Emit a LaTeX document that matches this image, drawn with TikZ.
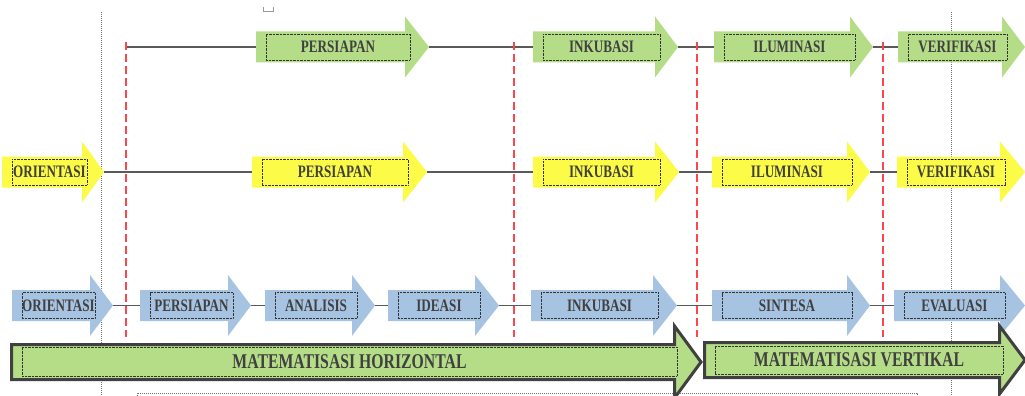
\documentclass[tikz,border=0pt]{standalone}
\usepackage{fontspec}
\newfontfamily\stagefont[FakeStretch=0.75]{Liberation Serif}
\usetikzlibrary{calc}
\definecolor{stagegreen}{RGB}{181,221,135}
\definecolor{stageyellow}{RGB}{252,252,72}
\definecolor{stageblue}{RGB}{166,196,226}
\definecolor{phasered}{RGB}{250,70,80}
\definecolor{labelgray}{RGB}{64,64,64}
\tikzset{
  stageframe/.style={draw=black!80, dash pattern=on 0.7pt off 0.7pt, line width=0.6pt,
    inner sep=0pt, minimum height=26, text=labelgray,
    font=\stagefont\bfseries\fontsize{17.5}{18}\selectfont},
  bigframe/.style={stageframe, font=\stagefont\bfseries\fontsize{21}{22}\selectfont},
  link/.style={draw=black!65, line width=1.1pt},
  phase/.style={draw=phasered, line width=1.8pt, dash pattern=on 8pt off 4pt},
  pagemargin/.style={draw=black!55, line width=0.5pt, dash pattern=on 1pt off 1pt},
  bigarrow/.style={fill=stagegreen, draw=black!75, line width=3pt, line join=miter},
}
% #1 name, #2 colour, #3 start, #4 head base, #5 tip, #6 y, #7 text
\newcommand{\stage}[7]{%
  \fill[#2] (#3,#6-15.5) -- (#4,#6-15.5) -- (#4,#6-30.5) -- (#5,#6)
    -- (#4,#6+30.5) -- (#4,#6+15.5) -- (#3,#6+15.5) -- cycle;
  \coordinate (#1-in) at (#3,#6);
  \coordinate (#1-out) at (#5,#6);
  \node[stageframe, minimum width={#4-#3-5}] (#1) at ({(#3+#4+15)/2},#6) {#7};
}

\begin{document}
\begin{tikzpicture}[x=1pt, y=-1pt]
   \useasboundingbox (0,0) rectangle (1025,396);
   % page margins
   \draw[pagemargin] (101,12) -- (101,396);
   \draw[pagemargin] (951,12) -- (951,396);
   \draw[pagemargin] (137,396) -- (137,393) -- (917,393) -- (917,396);
   \draw[black!40, line width=0.6pt] (263,7) -- (263,11) -- (273,11) -- (273,7);

   % green row
   \stage{gp}{stagegreen}{256}{405}{429}{47}{PERSIAPAN}
   \stage{gi}{stagegreen}{533}{655}{678}{47}{INKUBASI}
   \stage{gl}{stagegreen}{714}{850}{873}{47}{ILUMINASI}
   \stage{gv}{stagegreen}{898}{1002}{1025}{47}{VERIFIKASI}
   \coordinate (gstart) at (126,47);
   \draw[link] (gstart) -- (gp-in);
   \draw[link] (gp-out) -- (gi-in);
   \draw[link] (gi-out) -- (gl-in);
   \draw[link] (gl-out) -- (gv-in);

   % yellow row
   \stage{yo}{stageyellow}{2}{82}{104}{172}{ORIENTASI}
   \stage{yp}{stageyellow}{252}{403}{427}{172}{PERSIAPAN}
   \stage{yi}{stageyellow}{533}{655}{679}{172}{INKUBASI}
   \stage{yl}{stageyellow}{712}{847}{870}{172}{ILUMINASI}
   \stage{yv}{stageyellow}{897}{1000}{1025}{172}{VERIFIKASI}
   \draw[link] (yo-out) -- (yp-in);
   \draw[link] (yp-out) -- (yi-in);
   \draw[link] (yi-out) -- (yl-in);
   \draw[link] (yl-out) -- (yv-in);

   % blue row
   \stage{bo}{stageblue}{12}{90}{113}{305.5}{ORIENTASI}
   \stage{bp}{stageblue}{140}{228}{251}{305.5}{PERSIAPAN}
   \stage{ba}{stageblue}{265}{352}{375}{305.5}{ANALISIS}
   \stage{bd}{stageblue}{388}{475}{499}{305.5}{IDEASI}
   \stage{bi}{stageblue}{531}{653}{677}{305.5}{INKUBASI}
   \stage{bs}{stageblue}{712}{847}{870}{305.5}{SINTESA}
   \stage{be}{stageblue}{894}{1000}{1025}{305.5}{EVALUASI}
   \draw[link] (bo-out) -- (bp-in);
   \draw[link] (bp-out) -- (ba-in);
   \draw[link] (ba-out) -- (bd-in);
   \draw[link] (bd-out) -- (bi-in);
   \draw[link] (bi-out) -- (bs-in);
   \draw[link] (bs-out) -- (be-in);

   % phase borders
   \foreach \x in {126,514,697,883}
      \draw[phase] (\x,42) -- (\x,337);

   % big arrows
   \draw[bigarrow] (704.5,342.5) -- (999.5,342.5) -- (999.5,326) -- (1025,360)
      -- (999.5,394) -- (999.5,377.5) -- (704.5,377.5) -- cycle;
   \node[bigframe, minimum width=288, minimum height=28] (mv) at (859,360)
      {MATEMATISASI VERTIKAL};
   \draw[bigarrow] (11.5,344.5) -- (674.5,344.5) -- (674.5,326) -- (701,362)
      -- (674.5,398) -- (674.5,379.5) -- (11.5,379.5) -- cycle;
   \node[bigframe, minimum width=655, minimum height=29] (mh) at (349.5,361.5)
      {MATEMATISASI HORIZONTAL};
\end{tikzpicture}
\end{document}
